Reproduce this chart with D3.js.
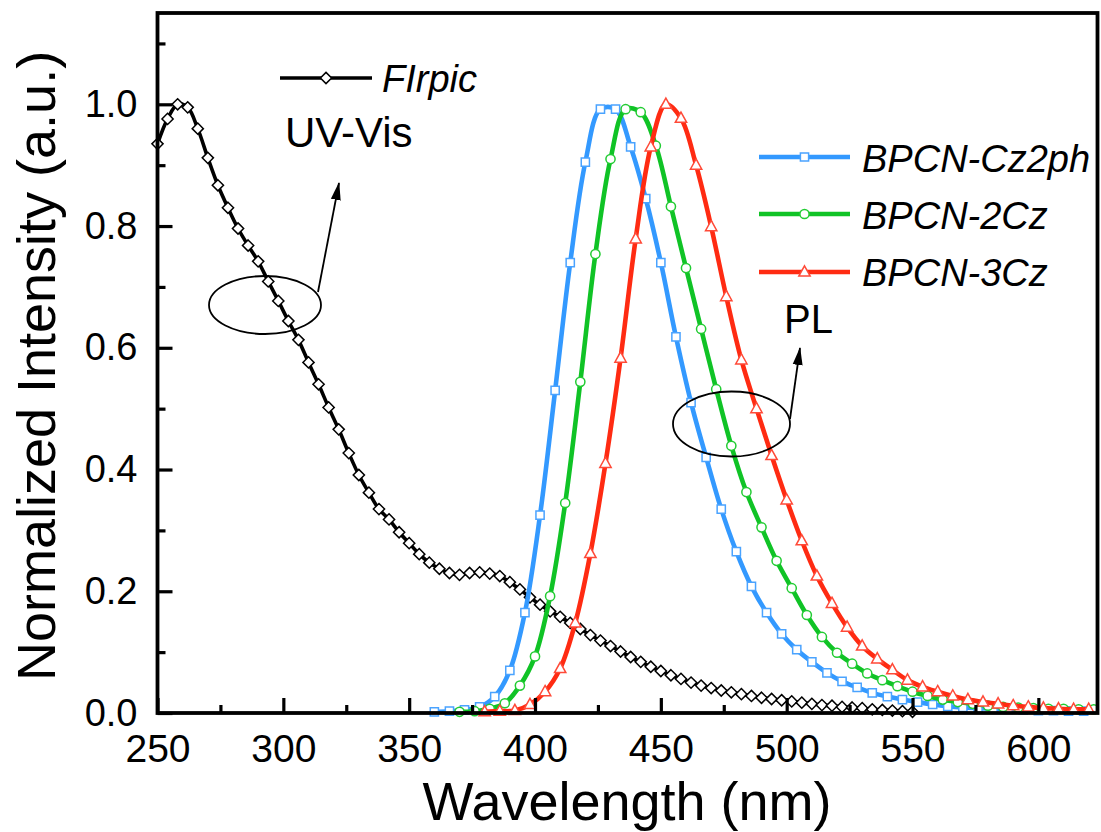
<!DOCTYPE html>
<html>
<head>
<meta charset="utf-8">
<script src="https://cdn.jsdelivr.net/npm/d3@7"></script>
<style>
  html, body { margin: 0; padding: 0; background: #fff; }
  svg { display: block; font-family: "Liberation Sans", Arial, sans-serif; }
</style>
</head>
<body>
<div id="chart"></div>
<script>
// FIrpic UV-Vis absorption (read every 4 nm)
const uvWavelength = [250, 254, 258, 262, 266, 270, 274, 278, 282, 286, 290, 294, 298, 302, 306, 310, 314, 318,
  322, 326, 330, 334, 338, 342, 346, 350, 354, 358, 362, 366, 370, 374, 378, 382, 386, 390, 394, 398, 402, 406,
  410, 414, 418, 422, 426, 430, 434, 438, 442, 446, 450, 454, 458, 462, 466, 470, 474, 478, 482, 486, 490, 494,
  498, 502, 506, 510, 514, 518, 522, 526, 530, 534, 538, 542, 546, 550];
const uvIntensity = [0.935, 0.976, 1.000, 0.995, 0.960, 0.912, 0.867, 0.830, 0.796, 0.768, 0.742, 0.709, 0.677,
  0.644, 0.613, 0.576, 0.540, 0.502, 0.466, 0.427, 0.391, 0.362, 0.335, 0.318, 0.297, 0.279, 0.261, 0.247, 0.237,
  0.230, 0.227, 0.230, 0.231, 0.229, 0.225, 0.215, 0.203, 0.190, 0.178, 0.167, 0.158, 0.148, 0.138, 0.128, 0.119,
  0.110, 0.101, 0.092, 0.084, 0.076, 0.069, 0.062, 0.056, 0.050, 0.045, 0.041, 0.037, 0.034, 0.031, 0.028, 0.025,
  0.023, 0.021, 0.019, 0.017, 0.015, 0.013, 0.012, 0.010, 0.009, 0.008, 0.006, 0.005, 0.004, 0.003, 0.002];

// PL spectra (read every 6 nm)
const cz2phWavelength = [360, 366, 372, 378, 384, 390, 396, 402, 408, 414, 420, 426, 432, 438, 444, 450, 456, 462,
  468, 474, 480, 486, 492, 498, 504, 510, 516, 522, 528, 534, 540, 546, 552, 558, 564, 570, 576, 582, 588, 594,
  600, 606, 612, 618];
const cz2phIntensity = [0.002, 0.003, 0.005, 0.010, 0.027, 0.070, 0.165, 0.325, 0.530, 0.740, 0.905, 0.992, 0.992,
  0.930, 0.845, 0.740, 0.618, 0.510, 0.420, 0.335, 0.265, 0.208, 0.165, 0.130, 0.104, 0.084, 0.066, 0.052, 0.042,
  0.033, 0.027, 0.022, 0.018, 0.014, 0.011, 0.009, 0.008, 0.007, 0.006, 0.005, 0.004, 0.004, 0.003, 0.003];

const twoCzWavelength = [370, 376, 382, 388, 394, 400, 406, 412, 418, 424, 430, 436, 442, 448, 454, 460, 466, 472,
  478, 484, 490, 496, 502, 508, 514, 520, 526, 532, 538, 544, 550, 556, 562, 568, 574, 580, 586, 592, 598, 604,
  610, 616, 622];
const twoCzIntensity = [0.002, 0.003, 0.007, 0.016, 0.045, 0.093, 0.192, 0.345, 0.544, 0.754, 0.910, 0.992, 0.987,
  0.932, 0.832, 0.731, 0.631, 0.532, 0.439, 0.363, 0.305, 0.250, 0.205, 0.161, 0.125, 0.099, 0.081, 0.065, 0.054,
  0.044, 0.035, 0.028, 0.022, 0.018, 0.015, 0.012, 0.010, 0.009, 0.008, 0.007, 0.007, 0.006, 0.006];

const threeCzWavelength = [380, 386, 392, 398, 404, 410, 416, 422, 428, 434, 440, 446, 452, 458, 464, 470, 476, 482,
  488, 494, 500, 506, 512, 518, 524, 530, 536, 542, 548, 554, 560, 566, 572, 578, 584, 590, 596, 602, 608, 614, 620];
const threeCzIntensity = [0.002, 0.003, 0.004, 0.014, 0.035, 0.073, 0.148, 0.262, 0.410, 0.583, 0.779, 0.930, 1.000,
  0.977, 0.900, 0.799, 0.684, 0.580, 0.500, 0.423, 0.350, 0.283, 0.225, 0.180, 0.141, 0.110, 0.089, 0.071, 0.054,
  0.043, 0.035, 0.028, 0.022, 0.018, 0.015, 0.012, 0.010, 0.008, 0.007, 0.006, 0.006];

// axis ticks
const xMajorTicks = [250, 300, 350, 400, 450, 500, 550, 600];
const xMinorTicks = [275, 325, 375, 425, 475, 525, 575];
const yMajorTicks = [0, 0.2, 0.4, 0.6, 0.8, 1.0];
const yMinorTicks = [0.1, 0.3, 0.5, 0.7, 0.9, 1.1];

const width = 1101, height = 832;

const svg = d3.select('#chart').append('svg')
  .attr('width', width)
  .attr('height', height);

const x = d3.scaleLinear().domain([250, 623.5]).range([157.5, 1097.5]);
const y = d3.scaleLinear().domain([0, 1.15]).range([713, 13]);

// arrow head
svg.append('defs').append('marker')
  .attr('id', 'arrow')
  .attr('viewBox', '0 0 18 12')
  .attr('refX', 17)
  .attr('refY', 6)
  .attr('markerWidth', 18)
  .attr('markerHeight', 12)
  .attr('markerUnits', 'userSpaceOnUse')
  .attr('orient', 'auto')
  .append('path')
  .attr('d', 'M0,1 L18,6 L0,11 Z')
  .attr('fill', '#000');

// symbol shapes drawn as paths around 0,0
const shapes = {
  diamond: r => `M0,${-r}L${r},0L0,${r}L${-r},0Z`,
  square: r => `M${-r},${-r}H${r}V${r}H${-r}Z`,
  circle: r => `M${r},0A${r},${r} 0 1,1 ${-r},0A${r},${r} 0 1,1 ${r},0Z`,
  triangle: r => `M0,${-r * 1.15}L${r * 1.05},${r * 0.75}L${-r * 1.05},${r * 0.75}Z`
};

const series = [
  {name: 'FIrpic', wl: uvWavelength, val: uvIntensity, color: '#000', mark: '#000', shape: 'diamond', r: 5.6, lw: 3.6},
  {name: 'BPCN-Cz2ph', wl: cz2phWavelength, val: cz2phIntensity, color: '#3399ff', mark: '#4aa3ff', shape: 'square', r: 4.1, lw: 4.6},
  {name: 'BPCN-2Cz', wl: twoCzWavelength, val: twoCzIntensity, color: '#10c326', mark: '#22cc33', shape: 'circle', r: 4.6, lw: 4.6},
  {name: 'BPCN-3Cz', wl: threeCzWavelength, val: threeCzIntensity, color: '#ff2b12', mark: '#ff4a38', shape: 'triangle', r: 5.4, lw: 4.6}
];

const line = d3.line()
  .x(d => x(d[0]))
  .y(d => y(d[1]))
  .curve(d3.curveCatmullRom.alpha(0.5));

// curves with their symbols
series.forEach(s => {
  const pts = s.wl.map((w, i) => [w, s.val[i]]);
  const g = svg.append('g');
  g.append('path')
    .attr('d', line(pts))
    .attr('fill', 'none')
    .attr('stroke', s.color)
    .attr('stroke-width', s.lw)
    .attr('stroke-linejoin', 'round');
  g.selectAll('path.sym')
    .data(pts)
    .join('path')
    .attr('class', 'sym')
    .attr('transform', d => `translate(${x(d[0])},${y(d[1])})`)
    .attr('d', shapes[s.shape](s.r))
    .attr('fill', '#fff')
    .attr('stroke', s.mark)
    .attr('stroke-width', 1.5);
});

// axes: ticks point inward
const xAxis = svg.append('g')
  .attr('transform', 'translate(0,713)')
  .call(d3.axisBottom(x).tickValues(xMajorTicks).tickSize(-15).tickPadding(21).tickFormat(d3.format('d')));
const xMinor = svg.append('g')
  .attr('transform', 'translate(0,713)')
  .call(d3.axisBottom(x).tickValues(xMinorTicks).tickSize(-8).tickFormat(''));
const yAxis = svg.append('g')
  .attr('transform', 'translate(157.5,0)')
  .call(d3.axisLeft(y).tickValues(yMajorTicks).tickSize(-15).tickPadding(20).tickFormat(d3.format('.1f')));
const yMinor = svg.append('g')
  .attr('transform', 'translate(157.5,0)')
  .call(d3.axisLeft(y).tickValues(yMinorTicks).tickSize(-8).tickFormat(''));

[xAxis, xMinor, yAxis, yMinor].forEach(a => {
  a.select('.domain').remove();
  a.selectAll('line').attr('stroke', '#000').attr('stroke-width', 3.2);
});
xAxis.selectAll('text').attr('font-size', 39).attr('fill', '#000').attr('font-family', '"Liberation Sans", Arial, sans-serif');
yAxis.selectAll('text').attr('font-size', 38).attr('fill', '#000').attr('font-family', '"Liberation Sans", Arial, sans-serif');

// frame
svg.append('rect')
  .attr('x', 157.5).attr('y', 13)
  .attr('width', 940).attr('height', 700)
  .attr('fill', 'none')
  .attr('stroke', '#000')
  .attr('stroke-width', 3.8);

// axis titles
svg.append('text')
  .attr('x', 627).attr('y', 820)
  .attr('text-anchor', 'middle')
  .attr('font-size', 54)
  .text('Wavelength (nm)');
svg.append('text')
  .attr('transform', 'translate(55,366) rotate(-90)')
  .attr('text-anchor', 'middle')
  .attr('font-size', 54)
  .text('Normalized Intensity (a.u.)');

// legends
const legendRows = [
  {s: series[0], x1: 280, x2: 372, y: 78, tx: 382, ty: 92},
  {s: series[1], x1: 759, x2: 850, y: 157, tx: 862, ty: 172},
  {s: series[2], x1: 759, x2: 850, y: 214, tx: 862, ty: 229},
  {s: series[3], x1: 759, x2: 850, y: 272, tx: 862, ty: 286}
];
legendRows.forEach(l => {
  const g = svg.append('g');
  g.append('line')
    .attr('x1', l.x1).attr('x2', l.x2)
    .attr('y1', l.y).attr('y2', l.y)
    .attr('stroke', l.s.color)
    .attr('stroke-width', l.s.lw);
  g.append('path')
    .attr('transform', `translate(${(l.x1 + l.x2) / 2},${l.y})`)
    .attr('d', shapes[l.s.shape](l.s.r))
    .attr('fill', '#fff')
    .attr('stroke', l.s.mark)
    .attr('stroke-width', 1.5);
  g.append('text')
    .attr('x', l.tx).attr('y', l.ty)
    .attr('font-size', 38)
    .attr('font-style', 'italic')
    .text(l.s.name);
});

// annotations
svg.append('text').attr('x', 285).attr('y', 147).attr('font-size', 42).text('UV-Vis');
svg.append('text').attr('x', 784).attr('y', 333).attr('font-size', 40).text('PL');

svg.append('ellipse')
  .attr('cx', 265).attr('cy', 305).attr('rx', 56).attr('ry', 29)
  .attr('fill', 'none').attr('stroke', '#000').attr('stroke-width', 1.8);
svg.append('line')
  .attr('x1', 318).attr('y1', 292).attr('x2', 339).attr('y2', 183)
  .attr('stroke', '#000').attr('stroke-width', 1.8)
  .attr('marker-end', 'url(#arrow)');

svg.append('ellipse')
  .attr('cx', 731.5).attr('cy', 424).attr('rx', 58.5).attr('ry', 32.5)
  .attr('fill', 'none').attr('stroke', '#000').attr('stroke-width', 1.8);
svg.append('line')
  .attr('x1', 790).attr('y1', 419).attr('x2', 800).attr('y2', 348)
  .attr('stroke', '#000').attr('stroke-width', 1.8)
  .attr('marker-end', 'url(#arrow)');
</script>
</body>
</html>
